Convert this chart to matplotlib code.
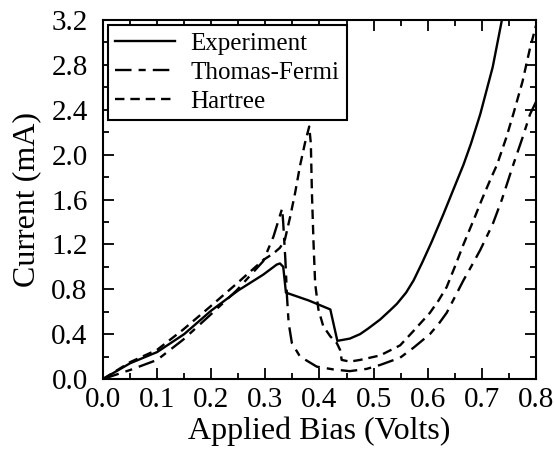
#!/usr/bin/env python3
import matplotlib
matplotlib.use("Agg")
import matplotlib.pyplot as plt
from matplotlib.ticker import MultipleLocator

# values (Volts, mA)
exp_bias = [0.0, 0.05, 0.1, 0.15, 0.2, 0.25, 0.296, 0.321, 0.327, 0.333, 0.338,
            0.38, 0.42, 0.433, 0.456, 0.475, 0.49, 0.512, 0.53, 0.543, 0.56,
            0.574, 0.59, 0.607, 0.629, 0.65, 0.666, 0.68, 0.697, 0.72, 0.737]
exp_current = [0.0, 0.14, 0.24, 0.40, 0.61, 0.79, 0.93, 1.02, 1.03, 1.0, 0.77,
               0.70, 0.62, 0.34, 0.36, 0.40, 0.45, 0.53, 0.61, 0.67, 0.77,
               0.88, 1.04, 1.22, 1.47, 1.72, 1.91, 2.1, 2.36, 2.78, 3.2]

tf_bias = [0.0, 0.05, 0.1, 0.148, 0.198, 0.247, 0.296, 0.315, 0.331, 0.333,
           0.337, 0.34, 0.343, 0.349, 0.364, 0.395, 0.426, 0.456, 0.487, 0.512,
           0.549, 0.574, 0.604, 0.62, 0.635, 0.65, 0.666, 0.68, 0.697, 0.72,
           0.737, 0.758, 0.775, 0.789, 0.8]
tf_current = [0.0, 0.08, 0.17, 0.35, 0.57, 0.79, 1.05, 1.27, 1.52, 1.39,
              1.06, 0.73, 0.50, 0.32, 0.20, 0.11, 0.085, 0.07, 0.09, 0.125,
              0.19, 0.28, 0.40, 0.49, 0.59, 0.73, 0.88, 1.0, 1.15, 1.38,
              1.6, 1.91, 2.15, 2.36, 2.47]

ht_bias = [0.0, 0.05, 0.1, 0.148, 0.198, 0.247, 0.296, 0.315, 0.327, 0.336,
           0.346, 0.355, 0.364, 0.373, 0.381, 0.384, 0.386, 0.389, 0.392, 0.398,
           0.407, 0.42, 0.432, 0.438, 0.441, 0.456, 0.475, 0.512, 0.549, 0.574,
           0.604, 0.62, 0.635, 0.65, 0.666, 0.685, 0.7, 0.715, 0.728, 0.745,
           0.758, 0.775, 0.789, 0.8]
ht_current = [0.0, 0.15, 0.26, 0.44, 0.645, 0.85, 1.06, 1.12, 1.17, 1.24,
              1.45, 1.66, 1.90, 2.10, 2.25, 2.1, 1.66, 1.21, 0.85, 0.62,
              0.47, 0.38, 0.32, 0.26, 0.17, 0.155, 0.17, 0.21, 0.30, 0.43,
              0.59, 0.70, 0.82, 1.0, 1.2, 1.42, 1.6, 1.77, 1.91, 2.15,
              2.36, 2.65, 2.95, 3.15]

x_ticks = [0.0, 0.1, 0.2, 0.3, 0.4, 0.5, 0.6, 0.7, 0.8]
y_ticks = [0.0, 0.4, 0.8, 1.2, 1.6, 2.0, 2.4, 2.8, 3.2]

plt.rcParams['font.family'] = ['Liberation Serif', 'DejaVu Serif']

fig = plt.figure(figsize=(5.54, 4.58), dpi=100)
ax = fig.add_axes([0.1859, 0.1725, 0.7816, 0.7838])

ax.plot(exp_bias, exp_current, color='black', lw=1.7, ls='-',
        label='Experiment')
ax.plot(tf_bias, tf_current, color='black', lw=1.7, ls=(0, (7, 3, 3, 3)),
        label='Thomas-Fermi')
ax.plot(ht_bias, ht_current, color='black', lw=1.7, ls=(0, (4, 2.5)),
        label='Hartree')

ax.set_xlim(0, 0.8)
ax.set_ylim(0, 3.2)
ax.set_xticks(x_ticks)
ax.set_yticks(y_ticks)
ax.set_xticklabels(['%.1f' % v for v in x_ticks])
ax.set_yticklabels(['%.1f' % v for v in y_ticks])
ax.xaxis.set_minor_locator(MultipleLocator(0.05))
ax.yaxis.set_minor_locator(MultipleLocator(0.2))
ax.tick_params(which='both', direction='in', top=True, right=True,
               labelsize=21, width=1.3)
ax.tick_params(axis='x', pad=6)
ax.tick_params(axis='y', pad=11)
ax.tick_params(which='major', length=8)
ax.tick_params(which='minor', length=4)
for sp in ax.spines.values():
    sp.set_linewidth(1.5)

ax.set_xlabel('Applied Bias (Volts)', fontsize=23, labelpad=2)
ax.set_ylabel('Current (mA)', fontsize=23, labelpad=7)

leg = ax.legend(loc='upper left', fontsize=18, frameon=True, fancybox=False,
                edgecolor='black', framealpha=1, handlelength=2.4,
                handletextpad=0.6, labelspacing=0.25, borderpad=0.3,
                borderaxespad=0.2)
leg.get_frame().set_linewidth(1.5)

fig.savefig('out.png', dpi=100)
